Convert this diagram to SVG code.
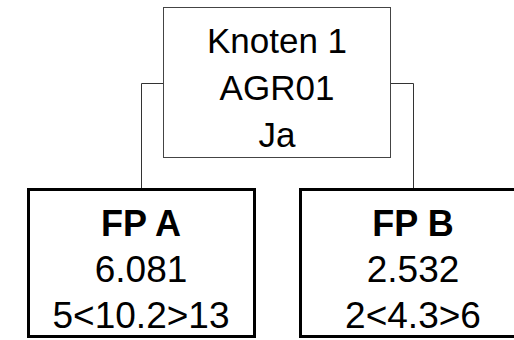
<svg xmlns="http://www.w3.org/2000/svg" width="514" height="340" viewBox="0 0 514 340">
<style>
text{font-family:"Liberation Sans",Arial,sans-serif;font-size:35px;fill:#000;text-anchor:middle}
.b{font-weight:bold;font-size:36px}
.l{font-size:37px}
.thin{fill:#fff;stroke:#444;stroke-width:1}
.thick{fill:#fff;stroke:#000;stroke-width:3}
.conn{fill:none;stroke:#333;stroke-width:1}
</style>
<rect width="514" height="340" fill="#fff"/>
<g id="connectors">
<path class="conn" d="M163.5 83.5H141.5V188"/>
<path class="conn" d="M390.5 83.5H413.5V188"/>
</g>
<g id="node1">
<rect class="thin" x="163.5" y="7.5" width="227" height="150"/>
<text x="277" y="53">Knoten 1</text>
<text x="277" y="100">AGR01</text>
<text x="277" y="147">Ja</text>
</g>
<g id="fpA">
<rect class="thick" x="28.5" y="189.5" width="226" height="147"/>
<text class="b" x="141" y="236">FP A</text>
<text class="l" x="141" y="282">6.081</text>
<text class="l" x="141" y="328">5&lt;10.2&gt;13</text>
</g>
<g id="fpB">
<rect class="thick" x="300.5" y="189.5" width="226" height="147"/>
<text class="b" x="413" y="236">FP B</text>
<text class="l" x="413" y="282">2.532</text>
<text class="l" x="413" y="328">2&lt;4.3&gt;6</text>
</g>
</svg>
